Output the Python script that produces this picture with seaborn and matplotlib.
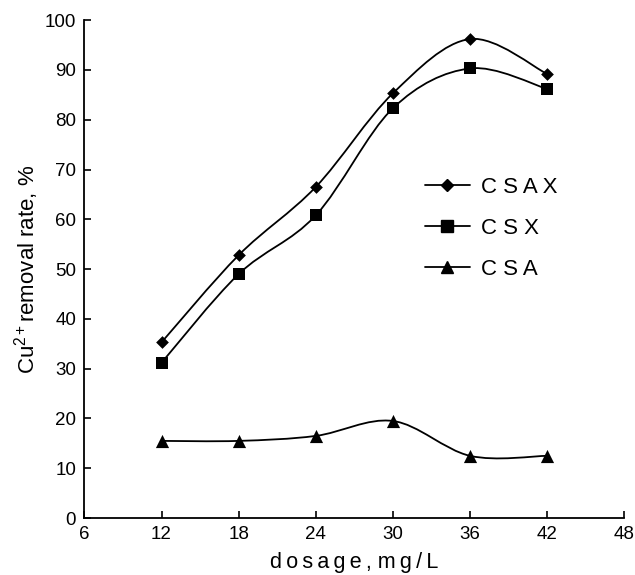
import numpy as np
import pandas as pd
import matplotlib
matplotlib.use("Agg")
import matplotlib.pyplot as plt
import seaborn as sns
from matplotlib.path import Path
from matplotlib.patches import PathPatch
from matplotlib.lines import Line2D

# Data
dosage = [12, 18, 24, 30, 36, 42]
csax = [35.3, 52.8, 66.5, 85.3, 96.2, 89.2]
csx = [31.2, 49.0, 60.8, 82.3, 90.3, 86.2]
csa = [15.5, 15.5, 16.5, 19.5, 12.5, 12.5]

series_names = ["CSAX", "CSX", "CSA"]
legend_labels = ["C S A X", "C S X", "C S A"]
x_ticks = [6, 12, 18, 24, 30, 36, 42, 48]
y_ticks = [0, 10, 20, 30, 40, 50, 60, 70, 80, 90, 100]

df = pd.DataFrame({
    "dosage": dosage * 3,
    "rate": csax + csx + csa,
    "series": [s for s in series_names for _ in dosage],
})

sns.set_theme(style="ticks")
plt.rcParams["font.family"] = ["Liberation Sans", "DejaVu Sans"]
plt.rcParams["mathtext.fontset"] = "custom"
plt.rcParams["mathtext.rm"] = "Liberation Sans"
plt.rcParams["mathtext.it"] = "Liberation Sans"
plt.rcParams["text.color"] = "black"
plt.rcParams["axes.labelcolor"] = "black"


def smooth_path(xs, ys):
    # cardinal (Catmull-Rom) spline as bezier segments, like a spreadsheet "smoothed line"
    p = np.column_stack([xs, ys]).astype(float)
    n = len(p)
    verts = [p[0]]
    codes = [Path.MOVETO]
    for i in range(n - 1):
        p0 = p[i - 1] if i > 0 else p[i]
        p3 = p[i + 2] if i + 2 < n else p[i + 1]
        c1 = p[i] + (p[i + 1] - p0) / 6
        c2 = p[i + 1] - (p3 - p[i]) / 6
        verts += [c1, c2, p[i + 1]]
        codes += [Path.CURVE4] * 3
    return Path(verts, codes)


fig = plt.figure(figsize=(6.35, 5.75), dpi=100)
ax = fig.add_axes([0.133, 0.099, 0.850, 0.866])

markers = {"CSAX": "D", "CSX": "s", "CSA": "^"}
sizes = {"CSAX": 42, "CSX": 82, "CSA": 90}

for name, vals in zip(series_names, [csax, csx, csa]):
    ax.add_patch(PathPatch(smooth_path(dosage, vals), fill=False,
                           edgecolor="black", lw=1.3, zorder=2))
    sub = df[df["series"] == name]
    sns.scatterplot(data=sub, x="dosage", y="rate", marker=markers[name],
                    s=sizes[name], color="black", edgecolor="black",
                    linewidth=0, ax=ax, zorder=3, legend=False)

ax.set_xlim(6, 48)
ax.set_ylim(0, 100)
ax.set_xticks(x_ticks)
ax.set_yticks(y_ticks)
ax.tick_params(direction="in", length=5, width=1.2, labelsize=13.5,
               colors="black", pad=6)
for side in ["top", "right"]:
    ax.spines[side].set_visible(False)
for side in ["left", "bottom"]:
    ax.spines[side].set_linewidth(1.3)
    ax.spines[side].set_color("black")

ts = "\u2009"
xlabel = ts.join("dosage,") + " " + ts.join("mg/L")
ax.set_xlabel(xlabel, fontsize=15.5, labelpad=6)
ax.set_ylabel(r"Cu$^{2+}$removal rate, %", fontsize=16, labelpad=3)

handles = [
    Line2D([], [], color="black", lw=1.3, marker="D", markersize=6.5),
    Line2D([], [], color="black", lw=1.3, marker="s", markersize=8),
    Line2D([], [], color="black", lw=1.3, marker="^", markersize=8.5),
]
ax.legend(handles, legend_labels, loc="upper left",
          bbox_to_anchor=(0.593, 0.725), frameon=False, fontsize=16,
          handlelength=2.05, labelspacing=0.9, handletextpad=0.5)

fig.savefig("out.png", dpi=100)
